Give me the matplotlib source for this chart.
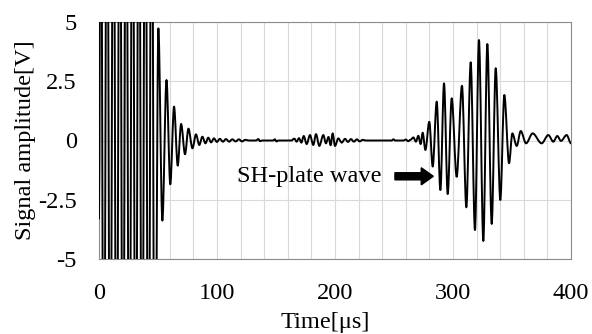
import matplotlib
matplotlib.use("Agg")
import matplotlib.pyplot as plt
from matplotlib.path import Path
from matplotlib.patches import PathPatch, FancyArrow
from matplotlib.ticker import MultipleLocator, FixedLocator, FixedFormatter

# ---- data: signal extrema (time in us, amplitude in V) ----
time_us = [
    0.0, 1.4, 4.1, 6.8, 9.5, 12.2, 14.9, 17.6, 20.3, 23.0, 25.7, 28.4, 31.1, 33.8,
    36.5, 39.2, 41.9, 44.6, 47.3,
    50.3, 53.7, 57.2, 60.4, 63.6, 66.7, 69.6, 72.9, 75.8, 79.2, 82.2, 85.0, 87.6,
    90.2, 92.6, 95.0, 97.4, 99.9, 102.4, 105.0, 107.6, 110.3, 113.0, 115.8, 118.5,
    121.2, 124.0, 127.0, 133.0, 135.0, 136.5, 138.0, 147.5, 149.0, 150.5, 152.0,
    163.0, 165.5, 167.5, 169.5, 171.5, 173.5, 176.0, 178.8, 181.6, 183.9, 186.7,
    190.1, 192.3, 194.5, 196.3, 198.0, 200.0, 202.8, 205.7, 208.5, 211.0, 213.5,
    216.0, 218.5, 221.0, 223.5, 226.0, 248.0, 249.5, 251.0, 258.0, 260.0, 262.0,
    264.0,
    266.4, 268.6, 270.6, 272.6, 274.3, 276.6, 279.9, 282.8, 286.2, 289.3, 292.4,
    295.5, 298.9, 303.1, 307.6, 311.3, 315.0, 318.6, 322.0, 325.7, 329.1, 332.8,
    336.2, 340.1, 343.5, 347.5,
    350.3, 354.0, 357.4, 361.9, 367.5, 375.1, 380.8, 385.0, 388.4, 391.5, 396.3,
    400.0,
]
amplitude_v = [
    -3.3, 16, -16, 16, -16, 16, -16, 16, -16, 16, -16, 16, -16, 16,
    -16, 16, -16, 16, -16,
    4.73, -3.38, 2.55, -1.85, 1.43, -1.06, 0.70, -0.58, 0.50, -0.33, 0.26, -0.19, 0.16,
    -0.12, 0.12, -0.08, 0.09, -0.06, 0.07, -0.05, 0.06, -0.05, 0.05, -0.04, 0.05,
    -0.04, 0.03, 0.0, 0.0, 0.06, -0.03, 0.0, 0.0, 0.05, -0.04, 0.0,
    0.0, 0.08, -0.05, 0.10, -0.09, 0.19, -0.15, 0.23, -0.19, 0.27, -0.23,
    0.23, -0.12, 0.15, -0.20, 0.30, -0.23, 0.09, -0.09, 0.07, -0.06, 0.06,
    -0.05, 0.05, -0.04, 0.03, 0.0, 0.0, 0.05, 0.0, 0.0, 0.04, -0.03,
    0.03,
    0.13, -0.05, 0.20, -0.15, 0.33, -0.40, 0.79, -1.10, 1.64, -2.09, 2.41,
    -2.26, 1.78, -1.53, 2.31, -2.82, 3.30, -3.78, 4.24, -4.24, 4.07, -3.52,
    3.05, -2.51, 1.92, -0.96,
    0.30, -0.23, 0.40, -0.12, 0.30, -0.12, 0.23, -0.05, 0.19, -0.02, 0.23,
    -0.12,
]

x_ticks = [0, 100, 200, 300, 400]
y_ticks = [-5, -2.5, 0, 2.5, 5]
y_tick_labels = ["-5", "-2.5", "0", "2.5", "5"]
annotation_text = "SH-plate wave"

# ---- style ----
plt.rcParams["font.family"] = ["Liberation Serif", "DejaVu Serif"]
plt.rcParams["axes.unicode_minus"] = False
FS = 17.6

fig = plt.figure(figsize=(5.92, 3.34), dpi=100)
ax = fig.add_axes([99 / 592, 75 / 334, 472 / 592, 237 / 334])
ax.set_xlim(0, 400)
ax.set_ylim(-5, 5)

# smooth wave through extrema (horizontal tangent at each extremum)
verts = [(time_us[0], amplitude_v[0])]
codes = [Path.MOVETO]
for i in range(1, len(time_us)):
    t0, v0 = time_us[i - 1], amplitude_v[i - 1]
    t1, v1 = time_us[i], amplitude_v[i]
    d = (t1 - t0) / 3.0
    verts += [(t0 + d, v0), (t1 - d, v1), (t1, v1)]
    codes += [Path.CURVE4, Path.CURVE4, Path.CURVE4]
wave = PathPatch(Path(verts, codes), fill=False, edgecolor="black",
                 linewidth=1.4, transform=ax.transData, zorder=3,
                 capstyle="round", joinstyle="round")
ax.add_patch(wave)

# ticks / grid
ax.xaxis.set_major_locator(FixedLocator(x_ticks))
ax.xaxis.set_minor_locator(MultipleLocator(20))
ax.yaxis.set_major_locator(FixedLocator(y_ticks))
ax.yaxis.set_major_formatter(FixedFormatter(y_tick_labels))
ax.grid(True, which="both", color="#d9d9d9", linewidth=0.8, zorder=0)
ax.set_axisbelow(True)
ax.tick_params(which="both", length=0)
ax.tick_params(axis="y", pad=16, labelsize=FS)
ax.tick_params(axis="x", pad=17, labelsize=FS)
for s in ax.spines.values():
    s.set_color("#8c8c8c")
    s.set_linewidth(0.8)

ax.set_xlabel("Time[μs]", fontsize=FS)
ax.xaxis.set_label_coords((325 - 99) / 472, -0.222)
ax.set_ylabel("Signal amplitude[V]", fontsize=FS, va="center")
ax.yaxis.set_label_coords((25 - 99) / 472, 0.5)

# annotation text and arrow
ax.text(116.7, -1.74, annotation_text, fontsize=FS, ha="left", va="baseline", zorder=4)
arrow = FancyArrow(250.8, -1.51, 32.5, 0, width=0.30, head_width=0.72,
                   head_length=10.2, length_includes_head=True,
                   color="black", zorder=4)
ax.add_patch(arrow)

fig.savefig("out.png", dpi=100)
